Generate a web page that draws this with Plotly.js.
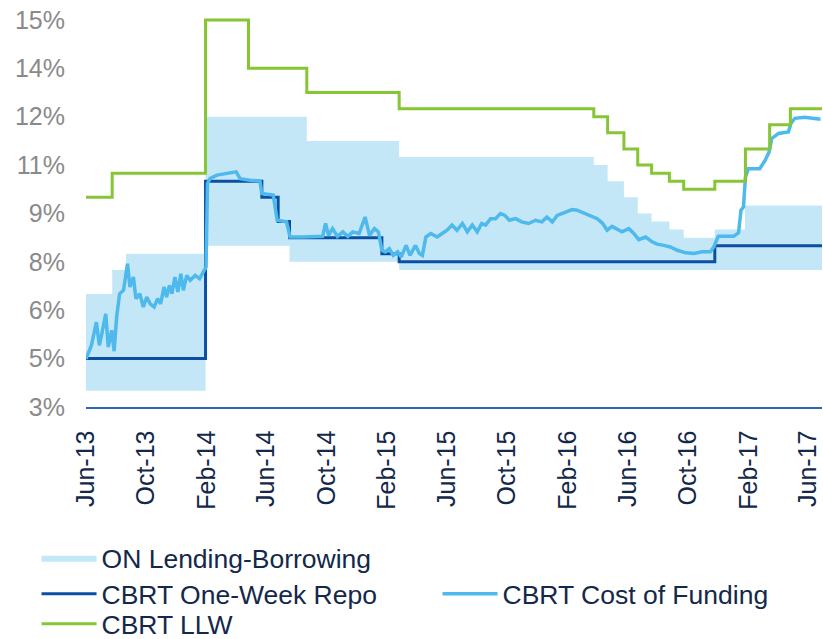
<!DOCTYPE html>
<html>
<head>
<meta charset="utf-8">
<script src="https://cdn.plot.ly/plotly-3.0.1.min.js"></script>
<style>
  html, body { margin: 0; padding: 0; background: #ffffff; }
  #chart { width: 823px; height: 639px; }
</style>
</head>
<body>
<div id="chart"></div>
<script>
// ---- Data ----
var bandDates = ['2013-06-01','2013-07-24','2013-08-21','2014-01-29','2014-07-18','2014-08-22','2015-02-25',
  '2016-03-25','2016-04-22','2016-05-25','2016-06-22','2016-07-20','2016-08-25','2016-09-23','2016-11-25','2017-01-25','2017-06-30'];
var onBorrowing = [3.5,3.5,3.5,8,7.5,7.5,7.25,7.25,7.25,7.25,7.25,7.25,7.25,7.25,7.25,7.25,7.25];
var onLending   = [6.5,7.25,7.75,12,12,11.25,10.75,10.5,10,9.5,9,8.75,8.5,8.25,8.5,9.25,9.25];

var repoDates = ['2013-06-01','2014-01-29','2014-05-23','2014-06-25','2014-07-18','2015-01-21','2015-02-25','2016-11-25','2017-06-30'];
var repoRate  = [4.5,10,9.5,8.75,8.25,7.75,7.5,8,8];

var llwDates = ['2013-06-01','2013-07-24','2014-01-29','2014-04-26','2014-08-22','2015-02-25','2016-03-25','2016-04-22',
  '2016-05-25','2016-06-22','2016-07-20','2016-08-25','2016-09-23','2016-11-25','2017-01-26','2017-03-16','2017-04-27','2017-06-30'];
var llwRate  = [9.5,10.25,15,13.5,12.75,12.25,12,11.5,11,10.5,10.25,10,9.75,10,11,11.75,12.25,12.25];

var cofDates = ['2013-06-01','2013-06-12','2013-06-22','2013-06-28','2013-07-03','2013-07-11','2013-07-16','2013-07-23','2013-07-28',
  '2013-08-02','2013-08-08','2013-08-16','2013-08-24','2013-08-29','2013-09-05','2013-09-10','2013-09-18','2013-09-25','2013-10-02',
  '2013-10-09','2013-10-17','2013-10-24','2013-10-30','2013-11-06','2013-11-11','2013-11-17','2013-11-22','2013-11-28','2013-12-04',
  '2013-12-10','2013-12-15','2013-12-22','2013-12-29','2014-01-08','2014-01-17','2014-01-25','2014-01-30','2014-02-02','2014-02-07',
  '2014-02-21','2014-03-06','2014-03-20','2014-04-01','2014-04-09','2014-04-29','2014-05-19','2014-05-23','2014-06-15','2014-06-23',
  '2014-07-12','2014-07-19','2014-08-15','2014-09-23','2014-09-29','2014-10-05','2014-10-13','2014-10-23','2014-11-03','2014-11-13',
  '2014-11-23','2014-12-06','2014-12-18','2014-12-27','2015-01-06','2015-01-14','2015-01-21','2015-01-28','2015-02-05','2015-02-13',
  '2015-02-22','2015-03-01','2015-03-11','2015-03-19','2015-03-30','2015-04-07','2015-04-13','2015-04-20','2015-04-30','2015-05-13',
  '2015-05-23','2015-06-02','2015-06-12','2015-06-22','2015-07-03','2015-07-13','2015-07-23','2015-08-02','2015-08-11','2015-08-19',
  '2015-08-29','2015-09-08','2015-09-18','2015-09-27','2015-10-06','2015-10-19','2015-10-31','2015-11-14','2015-11-28','2015-12-11',
  '2015-12-21','2016-01-01','2016-01-11','2016-01-21','2016-01-31','2016-02-10','2016-02-20','2016-03-05','2016-03-18','2016-04-01',
  '2016-04-12','2016-04-21','2016-05-01','2016-05-11','2016-05-21','2016-06-04','2016-06-14','2016-06-24','2016-07-08','2016-07-21',
  '2016-07-31','2016-08-14','2016-08-27','2016-09-10','2016-09-27','2016-10-14','2016-10-30','2016-11-16','2016-11-23','2016-12-02',
  '2016-12-17','2017-01-02','2017-01-12','2017-01-17','2017-01-22','2017-01-26','2017-02-01','2017-02-24','2017-03-07','2017-03-15',
  '2017-03-20','2017-04-03','2017-04-23','2017-04-28','2017-05-06','2017-05-26','2017-06-27'];
var cofRate = [4.49,4.91,5.63,4.91,5.27,5.89,4.86,5.38,4.73,
  5.79,6.51,6.62,7.44,6.72,7.03,6.36,6.51,6.10,6.41,
  6.20,6.10,6.36,6.20,6.72,6.41,6.77,6.51,7.03,6.57,
  7.13,6.62,7.08,6.93,7.08,6.98,7.19,7.34,9.93,10.08,
  10.19,10.22,10.24,10.29,10.08,10.03,10.01,9.62,9.57,8.79,
  8.74,8.27,8.27,8.29,8.69,8.32,8.53,8.29,8.43,8.29,
  8.43,8.38,8.89,8.32,8.53,8.43,7.86,7.81,7.91,7.70,
  7.81,7.65,8.01,7.70,8.01,7.76,7.70,8.27,8.38,8.27,
  8.38,8.48,8.64,8.48,8.69,8.43,8.64,8.43,8.69,8.64,
  8.84,8.84,9.00,8.94,8.79,8.84,8.74,8.69,8.79,8.74,
  8.89,8.74,8.94,9.00,9.05,9.12,9.10,9.02,8.94,8.84,
  8.69,8.48,8.60,8.53,8.43,8.53,8.38,8.19,8.27,8.12,
  8.05,8.01,7.96,7.86,7.78,7.76,7.81,7.81,7.96,8.29,
  8.29,8.29,8.40,9.10,9.20,10.13,10.39,10.39,10.65,10.91,
  11.32,11.48,11.53,11.79,11.95,11.98,11.92];

var yTickVals = [3,4.5,6,7.5,9,10.5,12,13.5,15];
var yTickText = ['3%','5%','6%','8%','9%','11%','12%','14%','15%'];

var seriesNames = ['ON Lending-Borrowing','CBRT One-Week Repo','CBRT Cost of Funding','CBRT LLW'];
var colors = { band: '#c4e7f8', repo: '#0b4fa3', cof: '#4db9ec', llw: '#86c534' };

var traces = [
  { x: bandDates, y: onBorrowing, type: 'scatter', mode: 'lines', line: {width: 0, shape: 'hv', color: colors.band},
    showlegend: false, hoverinfo: 'skip' },
  { x: bandDates, y: onLending, type: 'scatter', mode: 'lines', fill: 'tonexty', fillcolor: colors.band,
    line: {width: 0, shape: 'hv', color: colors.band}, name: seriesNames[0], legend: 'legend' },
  { x: repoDates, y: repoRate, type: 'scatter', mode: 'lines', line: {width: 3, shape: 'hv', color: colors.repo},
    name: seriesNames[1], legend: 'legend2' },
  { x: cofDates, y: cofRate, type: 'scatter', mode: 'lines', line: {width: 3.5, color: colors.cof},
    name: seriesNames[2], legend: 'legend3' },
  { x: llwDates, y: llwRate, type: 'scatter', mode: 'lines', line: {width: 3, shape: 'hv', color: colors.llw},
    name: seriesNames[3], legend: 'legend4' }
];

var legFont = { family: 'Liberation Sans, Arial, sans-serif', size: 26.5, color: '#13284a' };
function leg(x, y) {
  return { x: x, y: y, xref: 'container', yref: 'container', xanchor: 'left', yanchor: 'middle',
    orientation: 'h', font: legFont, bgcolor: 'rgba(0,0,0,0)', itemwidth: 55, tracegroupgap: 0 };
}

var layout = {
  width: 823, height: 639,
  margin: { l: 86, r: 1, t: 18, b: 232, autoexpand: false },
  paper_bgcolor: '#ffffff', plot_bgcolor: '#ffffff',
  showlegend: true,
  xaxis: {
    type: 'date',
    range: ['2013-06-01', '2017-06-30'],
    tick0: '2013-06-01', dtick: 'M4', tickformat: '%b-%y',
    tickangle: -90,
    tickfont: { family: 'Liberation Sans, Arial, sans-serif', size: 25, color: '#13284a' },
    ticklabelstandoff: 12,
    showgrid: false, zeroline: false,
    showline: true, linecolor: '#2f66b3', linewidth: 1.5,
    ticks: ''
  },
  yaxis: {
    range: [3, 15.06],
    tickvals: yTickVals, ticktext: yTickText,
    tickfont: { family: 'Liberation Sans, Arial, sans-serif', size: 25, color: '#8a8a8a' },
    ticklabelstandoff: 20,
    showgrid: false, zeroline: false, showline: false, ticks: ''
  },
  legend: leg(0.0444, 0.1268),
  legend2: leg(0.0444, 0.0704),
  legend3: leg(0.5316, 0.0704),
  legend4: leg(0.0444, 0.0235)
};

Plotly.newPlot('chart', traces, layout, { displayModeBar: false, staticPlot: true });
</script>
</body>
</html>
